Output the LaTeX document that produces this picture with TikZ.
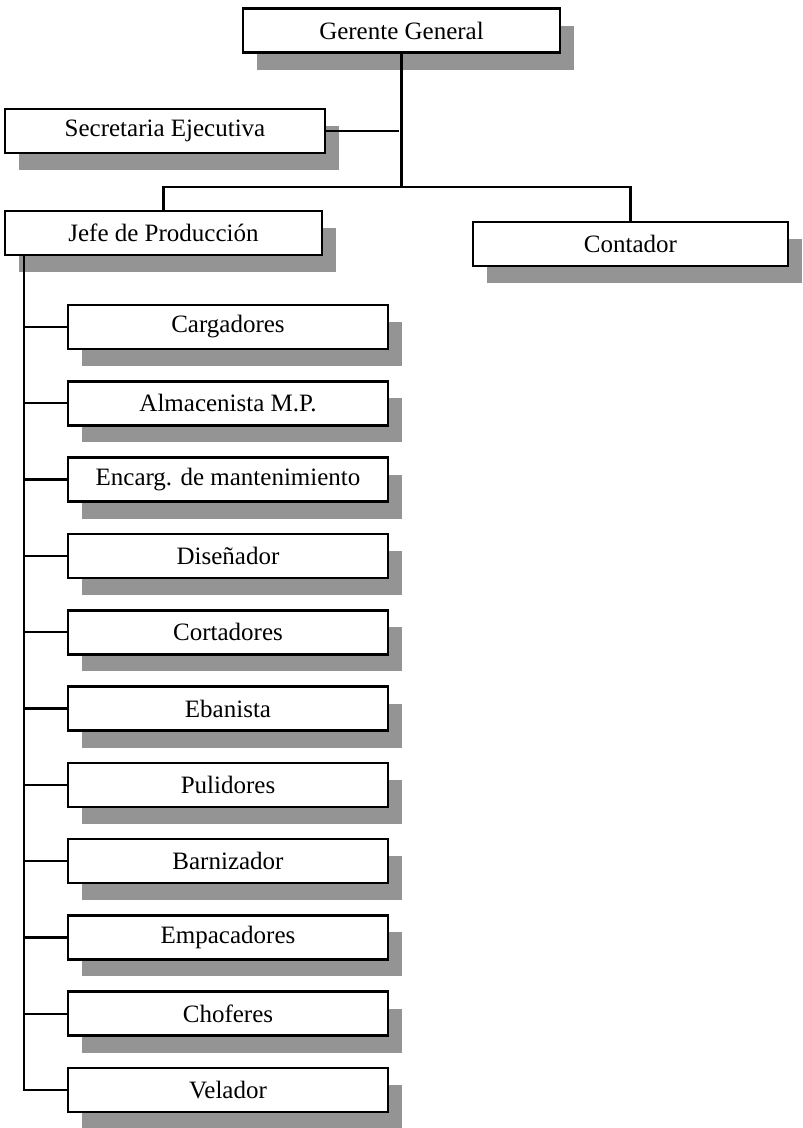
\documentclass[tikz,border=0pt]{standalone}
\usepackage{fontspec}
\setmainfont{Liberation Serif}
\usetikzlibrary{shadows}

\tikzset{
  post/.style={draw=black, line width=2.6pt, fill=white,
    minimum width=317pt, minimum height=44pt, inner sep=0pt,
    font=\fontsize{25}{29}\selectfont,
    drop shadow={shadow xshift=14pt, shadow yshift=-17pt,
                 fill=black!42, opacity=1}},
  staff/.style={post, minimum width=320pt},
  link/.style={draw=black, line width=2.3pt}
}

\begin{document}
\begin{tikzpicture}[x=1pt, y=-1pt]
  \useasboundingbox (0,0) rectangle (803,1128);

  % management level
  \node[post] (gg)   at (401.5, 30.5) {Gerente General};
  \node[post, minimum width=320pt] (sec) at (165, 131) {Secretaria Ejecutiva};
  \node[post] (jefe) at (163.5, 233) {Jefe de Producción};
  \node[post, minimum width=315pt] (cont) at (630.5, 244) {Contador};

  \coordinate (hub)   at (399, 187);
  \coordinate (trunk) at (24, 0);

  % production staff, one row every 76.3pt
  \foreach \name/\label [count=\i from 0] in {
      r1/Cargadores, r2/Almacenista M.P., r3/Encarg. de mantenimiento,
      r4/Diseñador, r5/Cortadores, r6/Ebanista, r7/Pulidores,
      r8/Barnizador, r9/Empacadores, r10/Choferes, r11/Velador}
    \node[staff] (\name) at (228, 327 + 76.3*\i) {\label};

  % upper connectors
  \draw[link] (gg.south) -- (gg.south |- hub);
  \draw[link] (sec.east) -- (sec.east -| hub);
  \draw[link] (jefe.north) -- (jefe.north |- hub) -- (cont.north |- hub) -- (cont.north);

  % trunk under the production chief
  \draw[link] (jefe.south -| trunk) |- (r11.west);
  \foreach \name in {r1,r2,r3,r4,r5,r6,r7,r8,r9,r10}
    \draw[link] (\name.west -| trunk) -- (\name.west);
\end{tikzpicture}
\end{document}
